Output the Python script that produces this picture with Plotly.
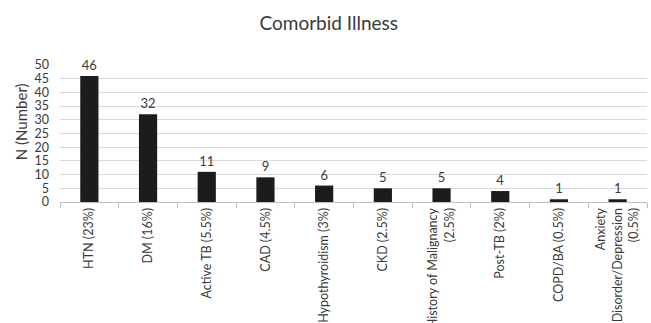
import plotly.graph_objects as go

categories = [
    "HTN (23%)",
    "DM (16%)",
    "Active TB (5.5%)",
    "CAD (4.5%)",
    "Hypothyroidism (3%)",
    "CKD (2.5%)",
    "History of Malignancy<br>(2.5%)",
    "Post-TB (2%)",
    "COPD/BA (0.5%)",
    "Anxiety<br>Disorder/Depression<br>(0.5%)",
]
counts = [46, 32, 11, 9, 6, 5, 5, 4, 1, 1]
y_ticks = [0, 5, 10, 15, 20, 25, 30, 35, 40, 45, 50]

font_family = "Lato, 'Open Sans', sans-serif"
text_color = "#3a3a3a"

fig = go.Figure(
    go.Bar(
        x=categories,
        y=counts,
        text=[str(v) for v in counts],
        textposition="outside",
        textfont=dict(size=13, color=text_color, family=font_family),
        marker=dict(color="#1c1c1c", line=dict(width=0)),
        width=0.31,
        cliponaxis=False,
    )
)

fig.update_layout(
    width=651,
    height=323,
    margin=dict(l=60, r=4, t=65, b=121, autoexpand=False),
    paper_bgcolor="white",
    plot_bgcolor="white",
    showlegend=False,
    font=dict(family=font_family, color=text_color),
    title=dict(
        text="Comorbid Illness",
        x=0.505,
        xanchor="center",
        y=0.928,
        yanchor="middle",
        font=dict(size=19, color=text_color, family=font_family),
    ),
    xaxis=dict(
        type="category",
        automargin=False,
        tickangle=-90,
        tickfont=dict(size=12.5, color=text_color, family=font_family),
        showline=True,
        linecolor="#bfbfbf",
        linewidth=1,
        ticks="outside",
        tickson="boundaries",
        ticklen=5,
        tickcolor="#bfbfbf",
        showgrid=False,
    ),
    yaxis=dict(
        range=[0, 50],
        automargin=False,
        tickvals=y_ticks,
        tickfont=dict(size=12.5, color=text_color, family=font_family),
        ticklabelstandoff=10,
        showgrid=True,
        gridcolor="#d9d9d9",
        gridwidth=1,
        zeroline=False,
        showline=False,
        ticks="",
    ),
    annotations=[
        dict(
            text="N (Number)",
            textangle=-90,
            xref="paper",
            yref="paper",
            x=-0.066,
            y=0.584,
            xanchor="center",
            yanchor="middle",
            showarrow=False,
            font=dict(size=15, color=text_color, family=font_family),
        )
    ],
    bargap=0.69,
)

fig.write_html("out.html")
